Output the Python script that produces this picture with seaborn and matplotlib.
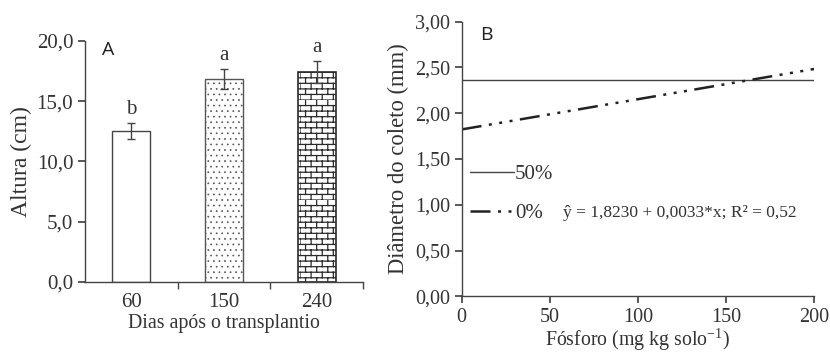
import matplotlib
matplotlib.use("Agg")
import warnings
import matplotlib.pyplot as plt
import matplotlib.hatch as mhatch
from matplotlib.path import Path
import seaborn as sns
import pandas as pd
import numpy as np

warnings.filterwarnings("ignore")

# ---- data ----
days = ["60", "150", "240"]
height = [12.5, 16.85, 17.45]
height_err = [0.65, 0.8, 0.9]
letters = ["b", "a", "a"]

fosforo = [0, 200]
diam_50 = [2.365, 2.365]
diam_0 = [1.823, 2.483]
series_names = ["50%", "0%"]
equation = "ŷ = 1,8230 + 0,0033*x; R² = 0,52"


# ---- custom brick hatch ('b') ----
class BrickHatch(mhatch.HatchPatternBase):
    def __init__(self, hatch, density):
        n = hatch.count("b")
        self.rows = 18 * n
        self.cols = 9 * n
        self.num_vertices = (self.rows * 2 + self.rows * self.cols * 2) if n else 0

    def set_vertices_and_codes(self, vertices, codes):
        i = 0
        for k in range(self.rows):
            y = k / self.rows
            vertices[i] = (0.0, y); codes[i] = Path.MOVETO; i += 1
            vertices[i] = (1.0, y); codes[i] = Path.LINETO; i += 1
        for k in range(self.rows):
            y0 = k / self.rows
            y1 = (k + 1) / self.rows
            off = 0.5 / self.cols if k % 2 else 0.0
            for j in range(self.cols):
                x = j / self.cols + off
                vertices[i] = (x, y0); codes[i] = Path.MOVETO; i += 1
                vertices[i] = (x, y1); codes[i] = Path.LINETO; i += 1


mhatch._hatch_types.append(BrickHatch)

sns.set_theme(style="ticks")
plt.rcParams["font.family"] = ["Liberation Serif", "DejaVu Serif"]
plt.rcParams["mathtext.fontset"] = "custom"
plt.rcParams["mathtext.rm"] = "Liberation Serif"
plt.rcParams["mathtext.it"] = "Liberation Serif:italic"
plt.rcParams["hatch.linewidth"] = 0.9

TXT = "#333333"
LINE = "#444444"
FS_X = 14.3

fig = plt.figure(figsize=(8.3, 3.53), dpi=100)
axA = fig.add_axes([0.1024, 0.2011, 0.335, 0.683])
axB = fig.add_axes([0.5563, 0.1606, 0.4245, 0.778])

# ---- Panel A ----
dfA = pd.DataFrame({"days": days, "height": height})
sns.barplot(data=dfA, x="days", y="height", ax=axA, width=0.41,
            color="white", edgecolor=LINE, linewidth=1.0, errorbar=None)
hatches = ["", "...", "b"]
edgecols = [LINE, "#555555", "#2a2a2a"]
hatch_lw = [0.9, 0.5, 0.9]
for p, h, ec, hl in zip(axA.patches, hatches, edgecols, hatch_lw):
    p.set_hatch(h)
    p.set_edgecolor(ec)
    p.set_linewidth(1.2 if h == "b" else 1.0)
    if hasattr(p, "set_hatch_linewidth"):
        p.set_hatch_linewidth(hl)
centers = [p.get_x() + p.get_width() / 2 for p in axA.patches]
axA.errorbar(centers, height, yerr=height_err, fmt="none", ecolor=LINE,
             elinewidth=1.0, capsize=2.9, capthick=1.0)
for cx, h, e, l in zip(centers, height, height_err, letters):
    axA.text(cx, h + e + 0.35, l, ha="center", va="bottom", fontsize=15, color=TXT)

axA.set_ylim(0, 20)
axA.set_xlim(-0.5, 2.5)
axA.set_yticks([0, 5, 10, 15, 20])
axA.set_yticklabels(["0,0", "5,0", "10,0", "15,0", "20,0"])
axA.set_xticks([0, 1, 2])
axA.set_xticks([0.5, 1.5, 2.5], minor=True)
axA.tick_params(axis="x", which="major", length=0, pad=8)
axA.tick_params(axis="x", which="minor", length=5, direction="out", color=LINE)
axA.tick_params(axis="y", length=5, direction="out", color=LINE)
axA.set_xlabel("Dias após o transplantio", fontsize=FS_X, color=TXT, labelpad=1)
axA.set_ylabel("Altura (cm)", fontsize=17, color=TXT, labelpad=3)
axA.text(0.06, 1.0, "A", transform=axA.transAxes, fontsize=14,
         family="Open Sans", va="top", ha="left", color="#222222")

# ---- Panel B ----
dfB = pd.DataFrame({
    "P": fosforo + fosforo,
    "D": diam_50 + diam_0,
    "trat": [series_names[0]] * 2 + [series_names[1]] * 2,
})
sns.lineplot(data=dfB, x="P", y="D", hue="trat", style="trat",
             palette={series_names[0]: LINE, series_names[1]: "#222222"},
             dashes={series_names[0]: "", series_names[1]: (8, 3, 1.2, 3, 1.2, 3, 1.2, 3)},
             ax=axB, legend=True)
lines = axB.get_lines()
lines[0].set_linewidth(1.0)
lines[1].set_linewidth(1.8)
leg = axB.legend(loc="upper left", bbox_to_anchor=(0.0, 0.509), frameon=False,
                 fontsize=15, handlelength=2.1, handletextpad=0.05,
                 labelspacing=0.92, borderaxespad=0.0)
for t in leg.get_texts():
    t.set_color(TXT)
for lh, lw in zip(leg.get_lines(), [1.0, 1.8]):
    lh.set_linewidth(lw)

axB.text(0.287, 0.303, equation, transform=axB.transAxes, fontsize=12.5,
         color=TXT, va="center", ha="left")
axB.text(0.052, 0.95, "B", transform=axB.transAxes, fontsize=14,
         family="Open Sans", va="center", ha="left", color="#222222")

axB.set_xlim(0, 200)
axB.set_ylim(0, 3)
axB.set_xticks([0, 50, 100, 150, 200])
axB.set_yticks([0, 0.5, 1, 1.5, 2, 2.5, 3])
axB.set_yticklabels(["0,00", "0,50", "1,00", "1,50", "2,00", "2,50", "3,00"])
axB.tick_params(axis="both", length=5, direction="out", color=LINE)
axB.set_xlabel("Fósforo (mg kg solo$^{\\mathrm{-1}}$)", fontsize=FS_X, color=TXT, labelpad=0)
axB.set_ylabel("Diâmetro do coleto (mm)", fontsize=16.3, color=TXT, labelpad=4)

for ax, fs in ((axA, 15), (axB, 14.5)):
    sns.despine(ax=ax)
    for s in ("left", "bottom"):
        ax.spines[s].set_color(LINE)
        ax.spines[s].set_linewidth(1.0)
    for lab in ax.get_xticklabels() + ax.get_yticklabels():
        lab.set_fontsize(fs)
        lab.set_color(TXT)

fig.savefig("out.png", dpi=100, facecolor="white")
